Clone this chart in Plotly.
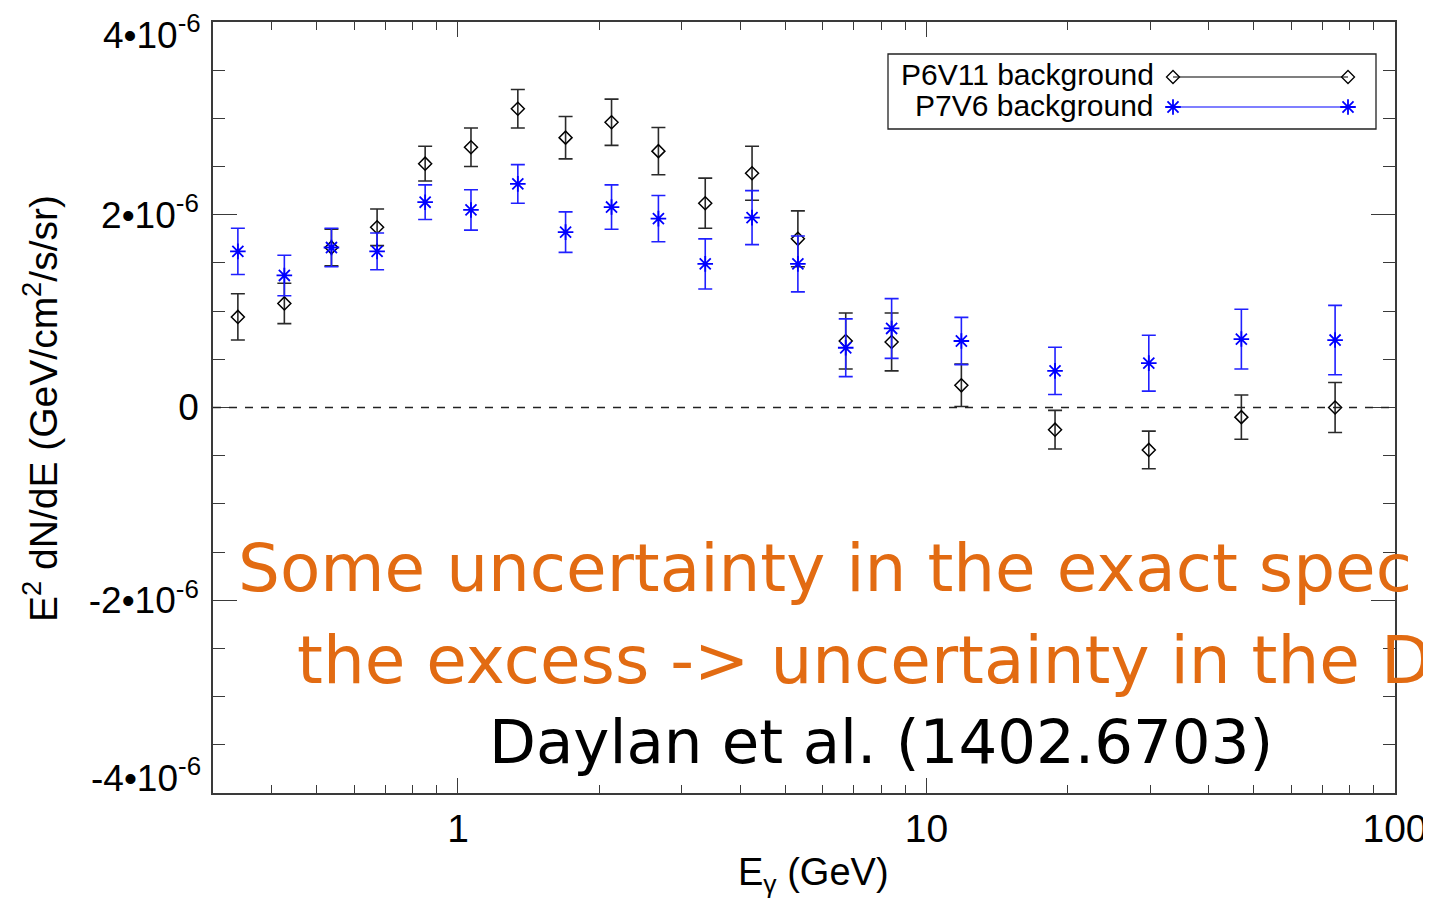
import numpy as np
import plotly.graph_objects as go

# ---------------- data ----------------
energy_gev = [0.339, 0.426, 0.537, 0.672, 0.851, 1.066, 1.342, 1.697, 2.127, 2.678,
              3.371, 4.243, 5.315, 6.724, 8.425, 11.87, 18.81, 29.82, 47.0, 74.5]

p6v11_flux = [0.94, 1.08, 1.66, 1.87, 2.53, 2.70, 3.10, 2.80, 2.96, 2.66,
              2.12, 2.43, 1.75, 0.69, 0.68, 0.23, -0.23, -0.44, -0.10, 0.00]
p6v11_err = [0.24, 0.21, 0.19, 0.19, 0.18, 0.20, 0.20, 0.22, 0.24, 0.245,
             0.26, 0.28, 0.29, 0.29, 0.30, 0.22, 0.20, 0.195, 0.23, 0.26]

p7v6_flux = [1.62, 1.37, 1.66, 1.62, 2.13, 2.05, 2.32, 1.82, 2.08, 1.96,
             1.49, 1.97, 1.49, 0.62, 0.82, 0.69, 0.38, 0.46, 0.71, 0.70]
p7v6_err = [0.24, 0.21, 0.20, 0.19, 0.18, 0.21, 0.20, 0.21, 0.23, 0.24,
            0.26, 0.28, 0.29, 0.30, 0.31, 0.245, 0.245, 0.29, 0.31, 0.36]

scale = 1e-6

y_tickvals = [-4e-6, -2e-6, 0, 2e-6, 4e-6]
y_ticktext = ["-4\u202210<sup>-6</sup>", "-2\u202210<sup>-6</sup>", "0",
              "2\u202210<sup>-6</sup>", "4\u202210<sup>-6</sup>"]
x_tickvals = [1, 10, 100]
x_ticktext = ["1", "10", "100"]

series_names = ["P6V11 background", "P7V6 background"]

# ---------------- figure ----------------
# the page body has an 8px margin, so the figure is drawn 8px in from the corner
OFF = 8
PLOT_L, PLOT_R, PLOT_T, PLOT_B = 213, 1395, 22, 793     # target plot box in page pixels
PW, PH = PLOT_R - PLOT_L, PLOT_B - PLOT_T
W, H = 1431 - OFF, 903 - OFF
L, T = PLOT_L - OFF, PLOT_T - OFF
R, B = W - L - PW, H - T - PH

def px_x(x):  # page pixel -> paper fraction
    return (x - PLOT_L) / PW

def px_y(y):
    return (PLOT_B - y) / PH

fig = go.Figure()

axis_col = "#3a3a3a"
FONT = "Liberation Sans, Arial, Helvetica, sans-serif"
HAND = "DejaVu Sans, sans-serif"

fig.add_trace(go.Scatter(
    x=energy_gev, y=[v * scale for v in p6v11_flux],
    error_y=dict(type="data", array=[e * scale for e in p6v11_err],
                 color="#2a2a2a", thickness=1.6, width=7),
    mode="markers", name=series_names[0], showlegend=False,
    marker=dict(symbol="diamond-open", size=10, color="black",
                line=dict(color="black", width=1.5)),
))
fig.add_trace(go.Scatter(
    x=energy_gev, y=[v * scale for v in p7v6_flux],
    error_y=dict(type="data", array=[e * scale for e in p7v6_err],
                 color="#2020ff", thickness=1.6, width=7),
    mode="markers", name=series_names[1], showlegend=False,
    marker=dict(symbol="asterisk-open", size=13, color="blue",
                line=dict(color="blue", width=1.8)),
))

# legend samples (drawn on an overlay axis in plot-fraction units)
lx0, lx1 = px_x(1173), px_x(1348)
fig.add_trace(go.Scatter(
    x=[lx0, lx1], y=[px_y(77), px_y(77)], xaxis="x2", yaxis="y2",
    mode="lines+markers", showlegend=False, hoverinfo="skip",
    line=dict(color="black", width=1.2),
    marker=dict(symbol="diamond-open", size=10, color="black",
                line=dict(color="black", width=1.3)),
))
fig.add_trace(go.Scatter(
    x=[lx0, lx1], y=[px_y(107), px_y(107)], xaxis="x2", yaxis="y2",
    mode="lines+markers", showlegend=False, hoverinfo="skip",
    line=dict(color="blue", width=1.2),
    marker=dict(symbol="asterisk-open", size=13, color="blue",
                line=dict(color="blue", width=1.8)),
))

# zero dashed line
fig.add_shape(type="line", xref="paper", yref="y", x0=0, x1=1, y0=0, y1=0,
              line=dict(color="#222", width=1.3, dash="8px,8px"))

# legend box
fig.add_shape(type="rect", xref="paper", yref="paper",
              x0=px_x(888), x1=px_x(1376), y0=px_y(129), y1=px_y(54),
              line=dict(color="#222", width=1.3), fillcolor="white", layer="below")

x_minor = [v * d for d in (0.1, 1, 10) for v in range(2, 10) if 0.3 <= v * d <= 100]
y_minor = list(np.arange(-4e-6, 4.0001e-6, 0.5e-6))

# edge labels are nudged inward (as in the original), so draw them as annotations
axis_ticktext = [t if abs(v) < 3e-6 else "" for v, t in zip(y_tickvals, y_ticktext)]

fig.update_layout(
    width=W, height=H,
    margin=dict(l=L, r=R, t=T, b=B, autoexpand=False),
    paper_bgcolor="white", plot_bgcolor="white",
    font=dict(family=FONT, color="black"),
    xaxis=dict(
        type="log", range=[np.log10(0.3), 2],
        tickvals=x_tickvals, ticktext=x_ticktext,
        ticks="inside", ticklen=15, tickwidth=1.3, tickcolor=axis_col,
        minor=dict(tickvals=x_minor, ticks="inside", ticklen=8,
                   tickwidth=1.2, tickcolor=axis_col),
        showline=True, linecolor=axis_col, linewidth=1.6, mirror="allticks",
        showgrid=False, zeroline=False, automargin=False,
        tickfont=dict(size=39, family=FONT, color="black"),
        ticklabelstandoff=0, ticklabeloverflow="allow",
    ),
    yaxis=dict(
        range=[-4.0e-6, 4.0e-6],
        tickvals=y_tickvals, ticktext=axis_ticktext,
        ticks="inside", ticklen=24, tickwidth=1.3, tickcolor=axis_col,
        minor=dict(tickvals=y_minor, ticks="inside", ticklen=12,
                   tickwidth=1.2, tickcolor=axis_col),
        showline=True, linecolor=axis_col, linewidth=1.6, mirror="allticks",
        showgrid=False, zeroline=False, automargin=False,
        tickfont=dict(size=37, family=FONT, color="black"),
        ticklabelstandoff=5, ticklabeloverflow="allow",
    ),
    xaxis2=dict(overlaying="x", range=[0, 1], visible=False, anchor="y2"),
    yaxis2=dict(overlaying="y", range=[0, 1], visible=False, anchor="x2"),
)

annotations = [
    # top / bottom y tick labels (nudged inside the figure)
    dict(x=px_x(203), y=px_y(33), text=y_ticktext[4], xanchor="right", yanchor="middle",
         font=dict(size=37, family=FONT, color="black")),
    dict(x=px_x(203), y=px_y(775), text=y_ticktext[0], xanchor="right", yanchor="middle",
         font=dict(size=37, family=FONT, color="black")),
    # legend text
    dict(x=px_x(1156), y=px_y(75), text=series_names[0], xanchor="right", yanchor="middle",
         font=dict(size=30, family=FONT, color="black")),
    dict(x=px_x(1156), y=px_y(106), text=series_names[1], xanchor="right", yanchor="middle",
         font=dict(size=30, family=FONT, color="black")),
    # axis titles
    dict(x=px_x(40), y=px_y(408), text="E<sup>2</sup> dN/dE (GeV/cm<sup>2</sup>/s/sr)",
         textangle=-90, xanchor="center", yanchor="middle",
         font=dict(size=39, family=FONT, color="black")),
    dict(x=px_x(814), y=px_y(875), text="E<sub>\u03b3</sub> (GeV)",
         xanchor="center", yanchor="middle",
         font=dict(size=38, family=FONT, color="black")),
    # overlaid comment text
    dict(x=px_x(236), y=px_y(568), text="Some uncertainty in the exact spec",
         xanchor="left", yanchor="middle",
         font=dict(size=66, family=HAND, color="#E26B12")),
    dict(x=px_x(295), y=px_y(660), text="the excess -> uncertainty in the D",
         xanchor="left", yanchor="middle",
         font=dict(size=66, family=HAND, color="#E26B12")),
    dict(x=px_x(881), y=px_y(741), text="Daylan et al. (1402.6703)",
         xanchor="center", yanchor="middle",
         font=dict(size=61, family=HAND, color="black")),
]
for a in annotations:
    a.update(xref="paper", yref="paper", showarrow=False)
fig.update_layout(annotations=annotations)

fig.write_html("out.html")
